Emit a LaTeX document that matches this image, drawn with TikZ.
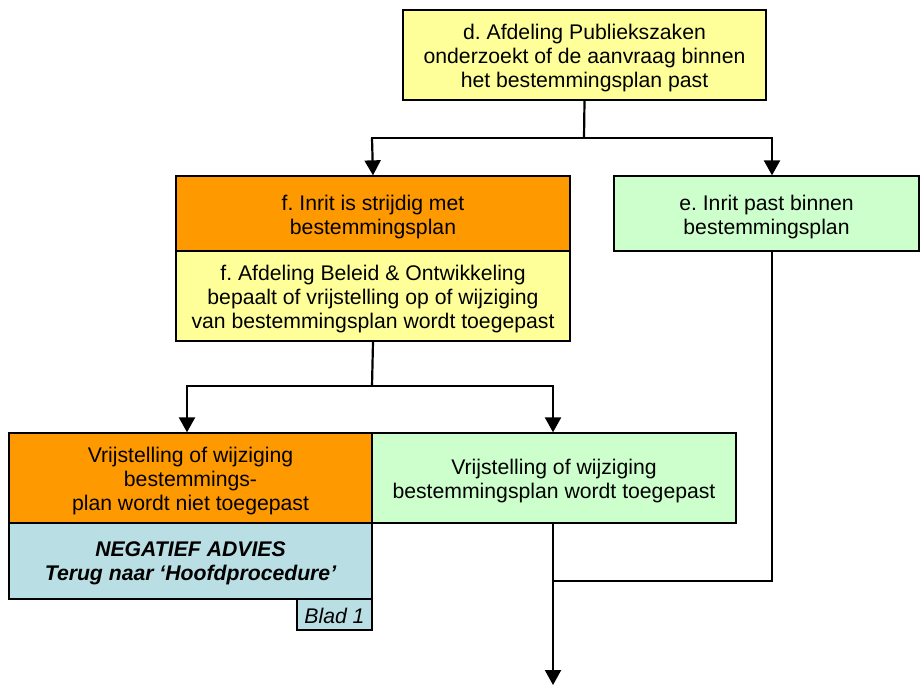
\documentclass[tikz,border=0pt]{standalone}
\usepackage{fontspec}
\setmainfont{Liberation Sans}
\usetikzlibrary{arrows.meta}
\definecolor{cyel}{HTML}{FFFF99}
\definecolor{cora}{HTML}{FF9900}
\definecolor{cgrn}{HTML}{CCFFCC}
\definecolor{cblu}{HTML}{B9DFE4}
\frenchspacing
\begin{document}
\begin{tikzpicture}[x=1pt,y=-1pt,
  box/.style={draw=black,line width=1.3pt,rectangle,inner sep=0pt},
  txt/.style={align=center,inner sep=0pt,yshift=-3.5pt,
    font=\fontsize{21.2}{24}\selectfont},
  conn/.style={line width=2.2pt},
  arr/.style={conn,-{Triangle[width=16pt,length=15pt]}}]
\useasboundingbox (0,0) rectangle (920,685);
\node[box,fill=cyel,minimum width=363pt,minimum height=90pt] (d) at (584.5,55) {};
\node[txt] (dT) at (d.center) {d. Afdeling Publiekszaken\\onderzoekt of de aanvraag binnen\\het bestemmingsplan past};
\node[box,fill=cora,minimum width=394pt,minimum height=75pt] (f1) at (373,213.5) {};
\node[txt] (f1T) at (f1.center) {f. Inrit is strijdig met\\bestemmingsplan};
\node[box,fill=cyel,minimum width=394pt,minimum height=90pt] (f2) at (373,296) {};
\node[txt] (f2T) at (f2.center) {f. Afdeling Beleid \& Ontwikkeling\\bepaalt of vrijstelling op of wijziging\\van bestemmingsplan wordt toegepast};
\node[box,fill=cgrn,minimum width=305pt,minimum height=75pt] (e) at (766.5,213.5) {};
\node[txt] (eT) at (e.center) {e. Inrit past binnen\\bestemmingsplan};
\node[box,fill=cora,minimum width=363pt,minimum height=90pt] (L) at (190.5,478) {};
\node[txt] (LT) at (L.center) {Vrijstelling of wijziging\\bestemmings-\\plan wordt niet toegepast};
\node[box,fill=cgrn,minimum width=364pt,minimum height=90pt] (R) at (554,478) {};
\node[txt] (RT) at (R.center) {Vrijstelling of wijziging\\bestemmingsplan wordt toegepast};
\node[box,fill=cblu,minimum width=363pt,minimum height=76pt] (N) at (190.5,561) {};
\node[txt,yshift=1pt] (NT) at (N.center) {\bfseries\itshape NEGATIEF ADVIES\\\bfseries\itshape Terug naar ‘Hoofdprocedure’};
\node[box,fill=cblu,minimum width=75pt,minimum height=31pt] (B) at (334.5,614.5) {};
\node[txt,yshift=2pt,font=\fontsize{21.2}{24}\selectfont\itshape] (BT) at (B.center) {Blad 1};
\coordinate (j1) at (584,138);
\coordinate (j1l) at (372,138);
\coordinate (j1r) at (772,138);
\coordinate (j2) at (372,386);
\coordinate (j2l) at (187,386);
\coordinate (j2r) at (553,386);
\coordinate (j3) at (553,581);
\coordinate (j3r) at (772,581);
\coordinate (end) at (553,685);
\draw[conn] (d.south) -- (j1);
\draw[conn,line cap=rect] (j1l) -- (j1r);
\draw[arr] (j1l) -- (f1.north);
\draw[arr] (j1r) -- (j1r |- e.north);
\draw[conn] (f2.south) -- (j2);
\draw[conn,line cap=rect] (j2l) -- (j2r);
\draw[arr] (j2l) -- (j2l |- L.north);
\draw[arr] (j2r) -- (j2r |- R.north);
\draw[conn] (j3r |- e.south) -- (j3r) -- (j3);
\draw[arr] (j3 |- R.south) -- (end);
\end{tikzpicture}
\end{document}
